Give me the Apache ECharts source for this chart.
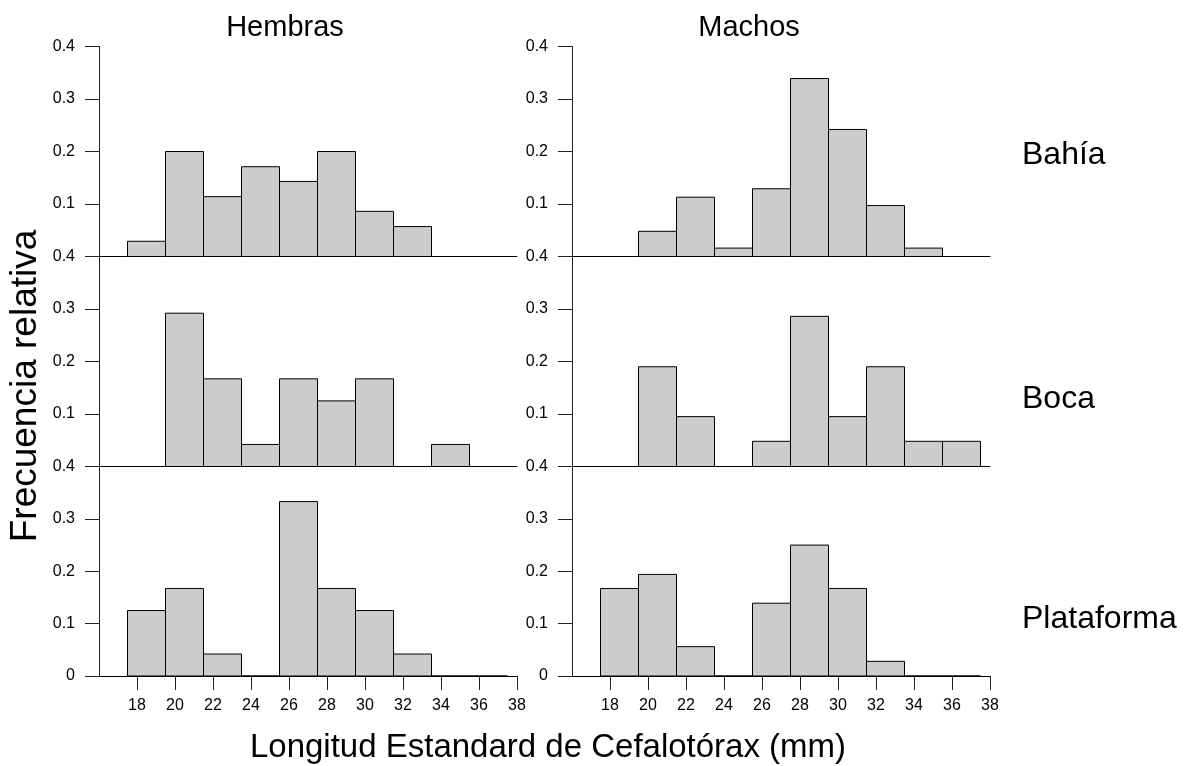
<!DOCTYPE html>
<html>
<head>
<meta charset="utf-8">
<script src="https://cdn.jsdelivr.net/npm/echarts@6/dist/echarts.min.js"></script>
<style>
  html, body { margin: 0; padding: 0; background: #fff; }
  #chart { width: 1188px; height: 766px; }
</style>
</head>
<body>
<div id="chart"></div>
<script>
// bordes de las clases (mm), ancho 2
const binEdges = [17.5, 19.5, 21.5, 23.5, 25.5, 27.5, 29.5, 31.5, 33.5, 35.5, 37.5]
const xTicks = [18, 20, 22, 24, 26, 28, 30, 32, 34, 36, 38]
const yTicks = [0, 0.1, 0.2, 0.3, 0.4]

const sexos = ['Hembras', 'Machos']
const zonas = ['Bahía', 'Boca', 'Plataforma']

// frecuencia relativa por clase
const hembrasBahia = [0.029, 0.2, 0.114, 0.171, 0.143, 0.2, 0.086, 0.057, 0, 0]
const machosBahia = [0, 0.048, 0.113, 0.016, 0.129, 0.339, 0.242, 0.097, 0.016, 0]
const hembrasBoca = [0, 0.292, 0.167, 0.042, 0.167, 0.125, 0.167, 0, 0.042, 0]
const machosBoca = [0, 0.19, 0.095, 0, 0.048, 0.286, 0.095, 0.19, 0.048, 0.048]
const hembrasPlataforma = [0.125, 0.167, 0.042, 0, 0.333, 0.167, 0.125, 0.042, 0, 0]
const machosPlataforma = [0.167, 0.194, 0.056, 0, 0.139, 0.25, 0.167, 0.028, 0, 0]

const panels = [
  [hembrasBahia, machosBahia],
  [hembrasBoca, machosBoca],
  [hembrasPlataforma, machosPlataforma]
]

const FONT = "'Liberation Sans', Arial, sans-serif"
const colLeft = [99, 572]
const colWidth = 418
const rowTop = [46.5, 256.5, 466.5]
const rowHeight = [210, 210, 209.5]

const grid = []
const xAxis = []
const yAxis = []
const series = []

function renderBar (params, api) {
  const p0 = api.coord([api.value(0), api.value(2)])
  const p1 = api.coord([api.value(1), 0])
  return {
    type: 'rect',
    shape: { x: p0[0], y: p0[1], width: p1[0] - p0[0], height: p1[1] - p0[1] },
    style: { fill: '#cccccc', stroke: '#000', lineWidth: 1 }
  }
}

panels.forEach((row, r) => {
  row.forEach((values, c) => {
    const idx = grid.length
    const last = r === panels.length - 1
    grid.push({ left: colLeft[c], top: rowTop[r], width: colWidth, height: rowHeight[r] })
    xAxis.push({
      type: 'value',
      gridIndex: idx,
      min: 16,
      max: 38,
      interval: 2,
      splitLine: { show: false },
      axisLine: { show: true, onZero: false, lineStyle: { color: '#000', width: 1 } },
      axisTick: {
        show: last,
        customValues: xTicks,
        length: 14,
        lineStyle: { color: '#222' }
      },
      axisLabel: {
        show: last,
        customValues: xTicks,
        margin: 22,
        color: '#000',
        fontSize: 16,
        fontFamily: FONT
      }
    })
    yAxis.push({
      type: 'value',
      gridIndex: idx,
      min: 0,
      max: 0.4,
      interval: 0.1,
      splitLine: { show: false },
      axisLine: { show: true, lineStyle: { color: '#222', width: 1 } },
      axisTick: { show: true, customValues: yTicks, length: 14, lineStyle: { color: '#222' } },
      axisLabel: {
        customValues: last ? yTicks : yTicks.slice(1),
        margin: 24,
        color: '#000',
        fontSize: 16,
        fontFamily: FONT,
        formatter: v => (v === 0 ? '0' : v.toFixed(1))
      }
    })
    series.push({
      type: 'custom',
      name: sexos[c] + ' ' + zonas[r],
      xAxisIndex: idx,
      yAxisIndex: idx,
      renderItem: renderBar,
      encode: { x: [0, 1], y: 2 },
      data: values.map((v, i) => [binEdges[i], binEdges[i + 1], v]),
      silent: true,
      z: 3
    })
  })
})

function label (text, left, top, size, align) {
  return {
    text: text,
    left: left,
    top: top,
    padding: 0,
    textAlign: align || 'left',
    textStyle: { color: '#000', fontSize: size, fontWeight: 'normal', fontFamily: FONT }
  }
}

const option = {
  animation: false,
  backgroundColor: '#fff',
  grid: grid,
  xAxis: xAxis,
  yAxis: yAxis,
  series: series,
  title: [
    label(sexos[0], 285, 13, 29, 'center'),
    label(sexos[1], 749, 13, 29, 'center'),
    label(zonas[0], 1022, 139, 32),
    label(zonas[1], 1022, 383, 32),
    label(zonas[2], 1022, 603, 32),
    label('Longitud Estandard de Cefalotórax (mm)', 548, 731, 33, 'center')
  ],
  graphic: [
    {
      type: 'text',
      x: 26,
      y: 386,
      rotation: Math.PI / 2,
      style: {
        text: 'Frecuencia relativa',
        fill: '#000',
        fontSize: 37,
        fontFamily: FONT,
        align: 'center',
        verticalAlign: 'middle'
      }
    }
  ]
}

const chart = echarts.init(document.getElementById('chart'))
chart.setOption(option)
</script>
</body>
</html>
